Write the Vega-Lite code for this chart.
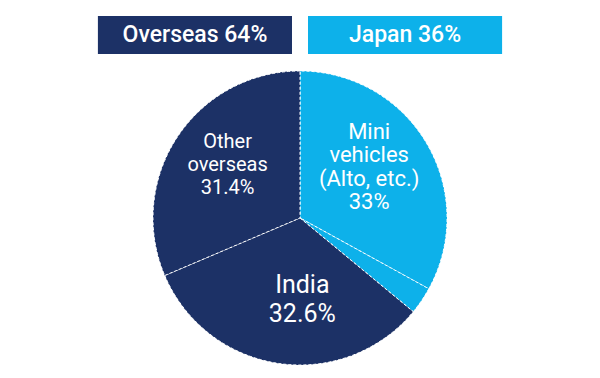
{
  "$schema": "https://vega.github.io/schema/vega-lite/v6.json",
  "padding": {"top": 16, "left": 0, "right": 0, "bottom": 0},
  "spacing": 15,
  "background": "white",
  "config": {"view": {"stroke": null}, "font": "Roboto"},
  "datasets": {
    "header": [
      {"region": "Overseas", "label": "Overseas 64%"},
      {"region": "Japan", "label": "Japan 36%"}
    ],
    "slices": [
      {"segment": "Mini vehicles", "region": "Japan", "share": 33, "rank": 1, "label": "Mini\nvehicles\n(Alto, etc.)\n33%"},
      {"segment": "Japan other", "region": "Japan", "share": 3, "rank": 2, "label": ""},
      {"segment": "India", "region": "Overseas", "share": 32.6, "rank": 3, "label": "India\n32.6%"},
      {"segment": "Other overseas", "region": "Overseas", "share": 31.4, "rank": 4, "label": "Other\noverseas\n31.4%"}
    ]
  },
  "vconcat": [
    {
      "width": 600,
      "height": 38,
      "data": {"name": "header"},
      "encoding": {
        "x": {"field": "region", "type": "nominal", "sort": ["Overseas", "Japan"], "scale": {"paddingInner": 0.0762, "paddingOuter": 0.466}, "axis": null}
      },
      "layer": [
        {
          "mark": {"type": "rect"},
          "encoding": {
            "color": {"field": "region", "type": "nominal", "scale": {"domain": ["Overseas", "Japan"], "range": ["#1c3166", "#0db1ea"]}, "legend": null}
          }
        },
        {
          "mark": {"type": "text", "color": "white", "fontSize": 23, "fontWeight": 500},
          "encoding": {"text": {"field": "label"}}
        }
      ]
    },
    {
      "width": 600,
      "height": 294,
      "data": {"name": "slices"},
      "encoding": {
        "theta": {"field": "share", "type": "quantitative", "stack": true},
        "order": {"field": "rank", "type": "quantitative"}
      },
      "layer": [
        {
          "mark": {"type": "arc", "stroke": "white", "strokeWidth": 1, "strokeDash": [3, 2]},
          "encoding": {
            "color": {"field": "region", "type": "nominal", "legend": null}
          }
        },
        {
          "mark": {"type": "text", "radius": 85, "dx": -4, "dy": -43, "color": "white", "fontSize": 22, "fontWeight": "normal", "lineBreak": "\n", "lineHeight": 23.5},
          "encoding": {"text": {"condition": {"test": "datum.segment === 'Mini vehicles'", "field": "label"}, "value": ""}}
        },
        {
          "mark": {"type": "text", "radius": 81, "dx": 14, "dy": -13, "color": "white", "fontSize": 25, "fontWeight": "normal", "lineBreak": "\n", "lineHeight": 29},
          "encoding": {"text": {"condition": {"test": "datum.segment === 'India'", "field": "label"}, "value": ""}}
        },
        {
          "mark": {"type": "text", "radius": 88, "dx": 1, "dy": -27, "color": "white", "fontSize": 20, "fontWeight": "normal", "lineBreak": "\n", "lineHeight": 23},
          "encoding": {"text": {"condition": {"test": "datum.segment === 'Other overseas'", "field": "label"}, "value": ""}}
        }
      ]
    }
  ]
}
